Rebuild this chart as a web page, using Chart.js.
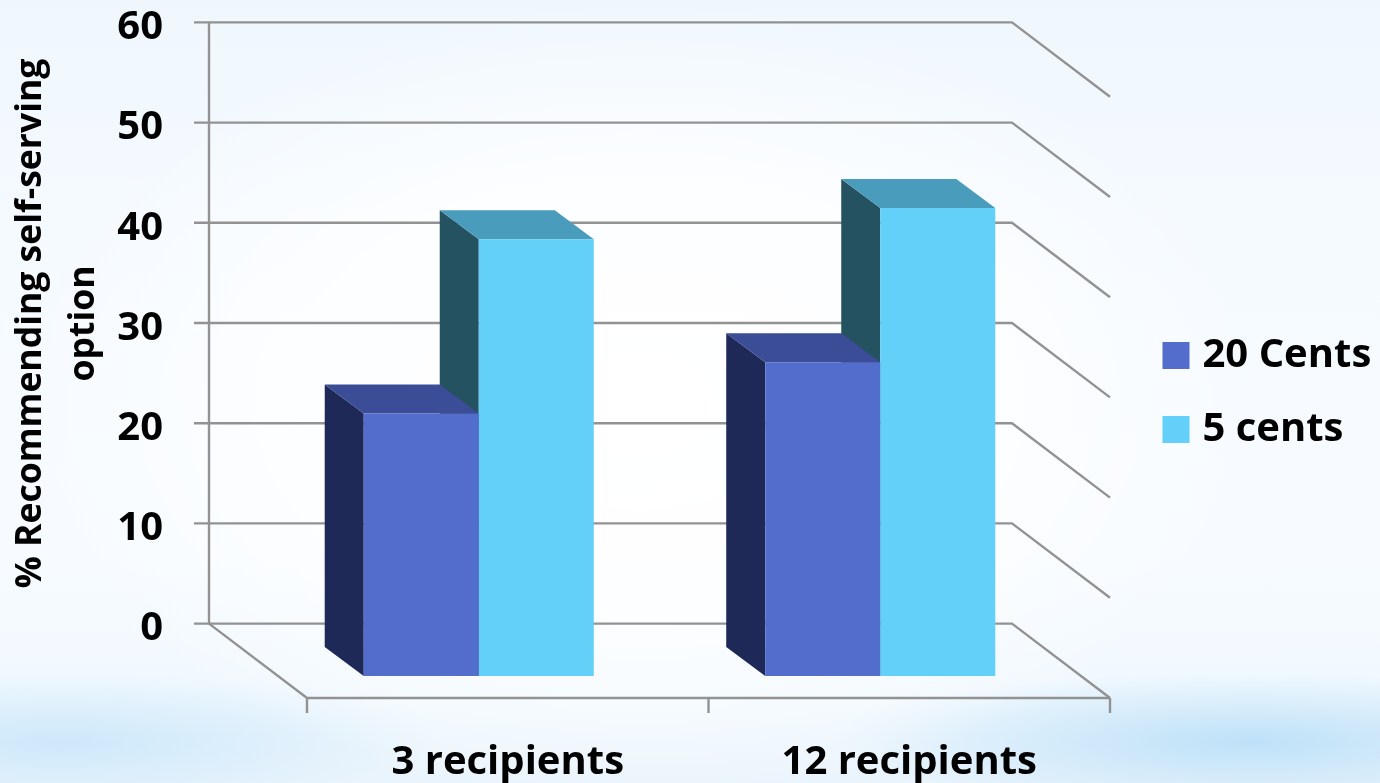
<!DOCTYPE html>
<html>
<head>
<meta charset="utf-8">
<style>
html,body{margin:0;padding:0;width:1380px;height:783px;overflow:hidden}
body{background:
 radial-gradient(ellipse 620px 400px at 640px 400px, rgba(255,255,255,1) 0%, rgba(255,255,255,.75) 55%, rgba(255,255,255,0) 100%),
 radial-gradient(ellipse 420px 70px at 1250px 742px, rgba(190,225,248,1) 0%, rgba(190,225,248,0) 100%),
 radial-gradient(ellipse 380px 70px at 60px 742px, rgba(205,232,250,1) 0%, rgba(205,232,250,0) 100%),
 linear-gradient(180deg,#eff7fd 0%,#f5faff 30%,#f7fbff 70%,#f0f8fe 90%,#eaf4fc 100%);}
canvas{display:block;position:absolute;left:0;top:0}
</style>
<script src="https://cdn.jsdelivr.net/npm/chart.js@4"></script>
</head>
<body>
<canvas id="c" width="1380" height="783"></canvas>
<script>
const categories = ['3 recipients', '12 recipients'];
const series20Name = '20 Cents';
const series5Name = '5 cents';
const series20 = [26.2, 31.3];
const series5 = [43.6, 46.7];
const yTickStep = 10;
const yMax = 60;
const yTitle = ['% Recommending self-serving', 'option'];

const color20 = {front:'#536dcd', side:'#1f2957', top:'#3a4d96'};
const color5 = {front:'#62d0f8', side:'#255261', top:'#4a9cbc'};
const gridColor = '#929292';
const FONT = '"Open Sans", sans-serif';

const WALL = {dx:-69, dy:-52.4};   // back wall relative to the bars' front plane
const FLOOR = {dx:29, dy:22};    // front floor edge relative to the bars' front plane
const BAR_DEPTH = {dx:-39, dy:-29};

const frame3d = {
  id:'frame3d',
  afterLayout(chart){
    // legend placed beside the plot; y title centred on the wall
    const l = chart.legend;
    l.left = 1135.5; l.right = 1380; l.top = 301.5; l.bottom = 640;
    const y = chart.scales.y;
    y.bottom = y.bottom - 104;
  },
  beforeDatasetsDraw(chart){
    const {ctx, scales:{x, y}} = chart;
    const wl = x.left + WALL.dx, wr = x.right + WALL.dx;
    const off = FLOOR.dx - WALL.dx, offY = FLOOR.dy - WALL.dy;
    ctx.save();
    ctx.strokeStyle = gridColor;
    ctx.lineWidth = 2.4;
    ctx.lineJoin = 'round';
    y.ticks.forEach(t => {
      const py = y.getPixelForValue(t.value) + WALL.dy;
      ctx.beginPath();
      ctx.moveTo(wl - 15, py);
      ctx.lineTo(wr, py);
      ctx.lineTo(wr + off, py + offY);
      ctx.stroke();
    });
    const y0 = y.getPixelForValue(0) + WALL.dy;
    const y1 = y.getPixelForValue(yMax) + WALL.dy;
    ctx.beginPath();
    ctx.moveTo(wl, y1);
    ctx.lineTo(wl, y0);
    ctx.lineTo(wl + off, y0 + offY);
    ctx.lineTo(wr + off, y0 + offY);
    ctx.stroke();
    const n = categories.length, cw = (x.right - x.left) / n;
    for (let i = 0; i <= n; i++) {
      const px = x.getPixelForValue(0) - cw / 2 + i * cw + FLOOR.dx;
      ctx.beginPath();
      ctx.moveTo(px, y0 + offY);
      ctx.lineTo(px, y0 + offY + 15);
      ctx.stroke();
    }
    // bar depth faces: far series first
    [[1, color5], [0, color20]].forEach(([ds, col]) => {
      chart.getDatasetMeta(ds).data.forEach(el => {
        const b = el.getProps(['x','y','base','width'], true);
        const L = b.x - b.width / 2, R = b.x + b.width / 2;
        const d = BAR_DEPTH;
        ctx.fillStyle = col.side;
        ctx.beginPath();
        ctx.moveTo(L, b.y); ctx.lineTo(L + d.dx, b.y + d.dy);
        ctx.lineTo(L + d.dx, b.base + d.dy); ctx.lineTo(L, b.base);
        ctx.closePath(); ctx.fill();
        ctx.fillStyle = col.top;
        ctx.beginPath();
        ctx.moveTo(L, b.y); ctx.lineTo(L + d.dx, b.y + d.dy);
        ctx.lineTo(R + d.dx, b.y + d.dy); ctx.lineTo(R, b.y);
        ctx.closePath(); ctx.fill();
      });
    });
    ctx.restore();
  }
};

new Chart(document.getElementById('c'), {
  type:'bar',
  data:{
    labels:categories,
    datasets:[
      {label:series20Name, data:series20, backgroundColor:color20.front, borderWidth:0, clip:false},
      {label:series5Name, data:series5, backgroundColor:color5.front, borderWidth:0, clip:false}
    ]
  },
  plugins:[frame3d],
  options:{
    responsive:false,
    animation:false,
    layout:{autoPadding:false, padding:{left:4, right:299, top:74.8, bottom:0}},
    datasets:{bar:{categoryPercentage:0.573, barPercentage:1}},
    plugins:{
      tooltip:{enabled:false},
      legend:{
        position:'chartArea',
        align:'start',
        labels:{
          color:'#000',
          font:{family:FONT, size:40, weight:'700'},
          boxWidth:13, boxHeight:13, padding:34,
          generateLabels(chart){
            return Chart.defaults.plugins.legend.labels.generateLabels(chart).map(it => {
              it.lineWidth = 14; it.strokeStyle = it.fillStyle; return it;
            });
          }
        }
      }
    },
    scales:{
      x:{
        grid:{display:false, drawTicks:false}, border:{display:false},
        ticks:{color:'#000', font:{family:FONT, size:40, weight:'700'}, padding:63, labelOffset:29, maxRotation:0, autoSkip:false},
        afterFit(s){ s.height = 107; s.paddingLeft = 0; s.paddingRight = 0; }
      },
      y:{
        min:0, max:yMax,
        grid:{display:false, drawTicks:false}, border:{display:false},
        ticks:{stepSize:yTickStep, color:'#000', font:{family:FONT, size:40, weight:'700'}, padding:115, labelOffset:-47, autoSkip:false},
        title:{display:true, text:yTitle, color:'#000', font:{family:FONT, size:35.5, weight:'700', lineHeight:1.5}, padding:{top:0,bottom:0}},
        afterFit(s){ s.width = 274; s.paddingTop = 0; s.paddingBottom = 0; }
      }
    }
  }
});
</script>
</body>
</html>
